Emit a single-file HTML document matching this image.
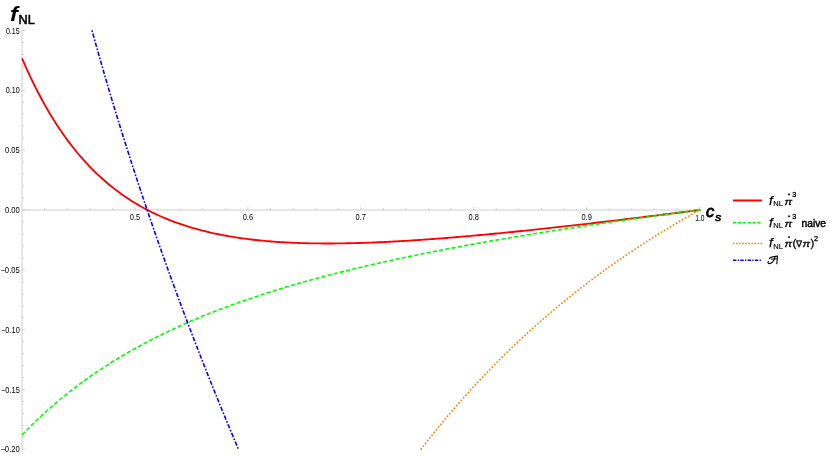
<!DOCTYPE html>
<html><head><meta charset="utf-8"><title>fNL</title>
<style>
html,body{margin:0;padding:0;background:#fff;}
body{width:830px;height:457px;overflow:hidden;font-family:"Liberation Sans",sans-serif;}
svg{display:block;}
text{font-family:"Liberation Sans",sans-serif;fill:#000;}
.tk{font-size:8.6px;}
</style></head><body>
<svg style="will-change:transform" width="830" height="457" viewBox="0 0 830 457">
<rect width="830" height="457" fill="#fff"/>

<rect x="21" y="30" width="2" height="419.5" fill="#e6e6e6"/>
<rect x="21" y="209" width="679" height="2" fill="#e6e6e6"/>
<g stroke="#bdbdbd" stroke-width="0.7" fill="none">
<line x1="22" y1="449.34" x2="25.00" y2="449.34"/>
<line x1="22" y1="437.37" x2="23.90" y2="437.37"/>
<line x1="22" y1="425.41" x2="23.90" y2="425.41"/>
<line x1="22" y1="413.44" x2="23.90" y2="413.44"/>
<line x1="22" y1="401.47" x2="23.90" y2="401.47"/>
<line x1="22" y1="389.50" x2="25.00" y2="389.50"/>
<line x1="22" y1="377.54" x2="23.90" y2="377.54"/>
<line x1="22" y1="365.57" x2="23.90" y2="365.57"/>
<line x1="22" y1="353.60" x2="23.90" y2="353.60"/>
<line x1="22" y1="341.64" x2="23.90" y2="341.64"/>
<line x1="22" y1="329.67" x2="25.00" y2="329.67"/>
<line x1="22" y1="317.70" x2="23.90" y2="317.70"/>
<line x1="22" y1="305.74" x2="23.90" y2="305.74"/>
<line x1="22" y1="293.77" x2="23.90" y2="293.77"/>
<line x1="22" y1="281.80" x2="23.90" y2="281.80"/>
<line x1="22" y1="269.84" x2="25.00" y2="269.84"/>
<line x1="22" y1="257.87" x2="23.90" y2="257.87"/>
<line x1="22" y1="245.90" x2="23.90" y2="245.90"/>
<line x1="22" y1="233.93" x2="23.90" y2="233.93"/>
<line x1="22" y1="221.97" x2="23.90" y2="221.97"/>
<line x1="22" y1="210.00" x2="25.00" y2="210.00"/>
<line x1="22" y1="198.03" x2="23.90" y2="198.03"/>
<line x1="22" y1="186.07" x2="23.90" y2="186.07"/>
<line x1="22" y1="174.10" x2="23.90" y2="174.10"/>
<line x1="22" y1="162.13" x2="23.90" y2="162.13"/>
<line x1="22" y1="150.16" x2="25.00" y2="150.16"/>
<line x1="22" y1="138.20" x2="23.90" y2="138.20"/>
<line x1="22" y1="126.23" x2="23.90" y2="126.23"/>
<line x1="22" y1="114.26" x2="23.90" y2="114.26"/>
<line x1="22" y1="102.30" x2="23.90" y2="102.30"/>
<line x1="22" y1="90.33" x2="25.00" y2="90.33"/>
<line x1="22" y1="78.36" x2="23.90" y2="78.36"/>
<line x1="22" y1="66.40" x2="23.90" y2="66.40"/>
<line x1="22" y1="54.43" x2="23.90" y2="54.43"/>
<line x1="22" y1="42.46" x2="23.90" y2="42.46"/>
<line x1="22" y1="30.50" x2="25.00" y2="30.50"/>
<line x1="44.68" y1="210.00" x2="44.68" y2="208.10"/>
<line x1="67.26" y1="210.00" x2="67.26" y2="208.10"/>
<line x1="89.84" y1="210.00" x2="89.84" y2="208.10"/>
<line x1="112.42" y1="210.00" x2="112.42" y2="208.10"/>
<line x1="135.00" y1="210.00" x2="135.00" y2="207.00"/>
<line x1="157.58" y1="210.00" x2="157.58" y2="208.10"/>
<line x1="180.16" y1="210.00" x2="180.16" y2="208.10"/>
<line x1="202.74" y1="210.00" x2="202.74" y2="208.10"/>
<line x1="225.32" y1="210.00" x2="225.32" y2="208.10"/>
<line x1="247.90" y1="210.00" x2="247.90" y2="207.00"/>
<line x1="270.48" y1="210.00" x2="270.48" y2="208.10"/>
<line x1="293.06" y1="210.00" x2="293.06" y2="208.10"/>
<line x1="315.64" y1="210.00" x2="315.64" y2="208.10"/>
<line x1="338.22" y1="210.00" x2="338.22" y2="208.10"/>
<line x1="360.80" y1="210.00" x2="360.80" y2="207.00"/>
<line x1="383.38" y1="210.00" x2="383.38" y2="208.10"/>
<line x1="405.96" y1="210.00" x2="405.96" y2="208.10"/>
<line x1="428.54" y1="210.00" x2="428.54" y2="208.10"/>
<line x1="451.12" y1="210.00" x2="451.12" y2="208.10"/>
<line x1="473.70" y1="210.00" x2="473.70" y2="207.00"/>
<line x1="496.28" y1="210.00" x2="496.28" y2="208.10"/>
<line x1="518.86" y1="210.00" x2="518.86" y2="208.10"/>
<line x1="541.44" y1="210.00" x2="541.44" y2="208.10"/>
<line x1="564.02" y1="210.00" x2="564.02" y2="208.10"/>
<line x1="586.60" y1="210.00" x2="586.60" y2="207.00"/>
<line x1="609.18" y1="210.00" x2="609.18" y2="208.10"/>
<line x1="631.76" y1="210.00" x2="631.76" y2="208.10"/>
<line x1="654.34" y1="210.00" x2="654.34" y2="208.10"/>
<line x1="676.92" y1="210.00" x2="676.92" y2="208.10"/>
<line x1="699.50" y1="210.00" x2="699.50" y2="207.00"/>
</g>
<text class="tk" x="5.9" y="33.6" textLength="13.9" lengthAdjust="spacingAndGlyphs">0.15</text>
<text class="tk" x="5.8" y="93.4" textLength="14.0" lengthAdjust="spacingAndGlyphs">0.10</text>
<text class="tk" x="5.0" y="153.3" textLength="14.8" lengthAdjust="spacingAndGlyphs">0.05</text>
<text class="tk" x="5.0" y="213.1" textLength="14.8" lengthAdjust="spacingAndGlyphs">0.00</text>
<text class="tk" x="0.4" y="272.9" textLength="19.4" lengthAdjust="spacingAndGlyphs">−0.05</text>
<text class="tk" x="1.0" y="332.8" textLength="18.8" lengthAdjust="spacingAndGlyphs">−0.10</text>
<text class="tk" x="1.0" y="392.6" textLength="18.8" lengthAdjust="spacingAndGlyphs">−0.15</text>
<text class="tk" x="0.4" y="452.4" textLength="19.4" lengthAdjust="spacingAndGlyphs">−0.20</text>
<text class="tk" x="129.8" y="220.4" textLength="10.4" lengthAdjust="spacingAndGlyphs">0.5</text>
<text class="tk" x="242.7" y="220.4" textLength="10.4" lengthAdjust="spacingAndGlyphs">0.6</text>
<text class="tk" x="355.6" y="220.4" textLength="10.4" lengthAdjust="spacingAndGlyphs">0.7</text>
<text class="tk" x="468.5" y="220.4" textLength="10.4" lengthAdjust="spacingAndGlyphs">0.8</text>
<text class="tk" x="581.4" y="220.4" textLength="10.4" lengthAdjust="spacingAndGlyphs">0.9</text>
<text class="tk" x="695.2" y="221.1" textLength="9.3" lengthAdjust="spacingAndGlyphs">1.0</text>
<path d="M22.10 58.42 L24.37 63.66 L26.64 68.76 L28.91 73.72 L31.17 78.54 L33.44 83.23 L35.71 87.79 L37.98 92.23 L40.25 96.55 L42.52 100.75 L44.79 104.84 L47.05 108.82 L49.32 112.69 L51.59 116.45 L53.86 120.12 L56.13 123.68 L58.40 127.15 L60.67 130.53 L62.93 133.82 L65.20 137.02 L67.47 140.13 L69.74 143.16 L72.01 146.11 L74.28 148.98 L76.55 151.78 L78.81 154.50 L81.08 157.14 L83.35 159.72 L85.62 162.23 L87.89 164.67 L90.16 167.05 L92.43 169.36 L94.69 171.62 L96.96 173.81 L99.23 175.95 L101.50 178.02 L103.77 180.05 L106.04 182.01 L108.31 183.93 L110.57 185.80 L112.84 187.61 L115.11 189.38 L117.38 191.10 L119.65 192.77 L121.92 194.40 L124.19 195.99 L126.45 197.53 L128.72 199.03 L130.99 200.50 L133.26 201.92 L135.53 203.30 L137.80 204.65 L140.07 205.96 L142.33 207.23 L144.60 208.47 L146.87 209.68 L149.14 210.85 L151.41 211.99 L153.68 213.10 L155.95 214.17 L158.21 215.22 L160.48 216.24 L162.75 217.23 L165.02 218.20 L167.29 219.13 L169.56 220.04 L171.83 220.92 L174.09 221.78 L176.36 222.62 L178.63 223.42 L180.90 224.21 L183.17 224.97 L185.44 225.71 L187.71 226.43 L189.97 227.13 L192.24 227.81 L194.51 228.47 L196.78 229.10 L199.05 229.72 L201.32 230.32 L203.59 230.90 L205.85 231.46 L208.12 232.00 L210.39 232.53 L212.66 233.04 L214.93 233.53 L217.20 234.01 L219.47 234.47 L221.73 234.92 L224.00 235.35 L226.27 235.77 L228.54 236.17 L230.81 236.56 L233.08 236.93 L235.35 237.29 L237.61 237.64 L239.88 237.98 L242.15 238.30 L244.42 238.61 L246.69 238.91 L248.96 239.19 L251.23 239.47 L253.49 239.73 L255.76 239.99 L258.03 240.23 L260.30 240.46 L262.57 240.68 L264.84 240.89 L267.11 241.09 L269.37 241.29 L271.64 241.47 L273.91 241.64 L276.18 241.80 L278.45 241.96 L280.72 242.11 L282.99 242.24 L285.25 242.37 L287.52 242.50 L289.79 242.61 L292.06 242.71 L294.33 242.81 L296.60 242.90 L298.87 242.99 L301.13 243.06 L303.40 243.13 L305.67 243.20 L307.94 243.25 L310.21 243.30 L312.48 243.34 L314.75 243.38 L317.01 243.41 L319.28 243.43 L321.55 243.45 L323.82 243.46 L326.09 243.47 L328.36 243.47 L330.63 243.47 L332.89 243.46 L335.16 243.44 L337.43 243.42 L339.70 243.40 L341.97 243.37 L344.24 243.33 L346.51 243.29 L348.77 243.25 L351.04 243.20 L353.31 243.15 L355.58 243.09 L357.85 243.03 L360.12 242.96 L362.39 242.89 L364.65 242.81 L366.92 242.73 L369.19 242.65 L371.46 242.57 L373.73 242.48 L376.00 242.38 L378.27 242.28 L380.53 242.18 L382.80 242.08 L385.07 241.97 L387.34 241.86 L389.61 241.74 L391.88 241.63 L394.15 241.50 L396.41 241.38 L398.68 241.25 L400.95 241.12 L403.22 240.99 L405.49 240.85 L407.76 240.71 L410.03 240.57 L412.29 240.43 L414.56 240.28 L416.83 240.13 L419.10 239.98 L421.37 239.82 L423.64 239.67 L425.91 239.51 L428.17 239.34 L430.44 239.18 L432.71 239.01 L434.98 238.84 L437.25 238.67 L439.52 238.50 L441.79 238.32 L444.05 238.14 L446.32 237.96 L448.59 237.78 L450.86 237.60 L453.13 237.41 L455.40 237.22 L457.67 237.03 L459.93 236.84 L462.20 236.65 L464.47 236.45 L466.74 236.25 L469.01 236.05 L471.28 235.85 L473.55 235.65 L475.81 235.44 L478.08 235.24 L480.35 235.03 L482.62 234.82 L484.89 234.61 L487.16 234.40 L489.43 234.18 L491.69 233.97 L493.96 233.75 L496.23 233.53 L498.50 233.31 L500.77 233.09 L503.04 232.87 L505.31 232.64 L507.57 232.42 L509.84 232.19 L512.11 231.96 L514.38 231.74 L516.65 231.50 L518.92 231.27 L521.19 231.04 L523.45 230.81 L525.72 230.57 L527.99 230.33 L530.26 230.10 L532.53 229.86 L534.80 229.62 L537.07 229.38 L539.33 229.13 L541.60 228.89 L543.87 228.65 L546.14 228.40 L548.41 228.15 L550.68 227.91 L552.95 227.66 L555.21 227.41 L557.48 227.16 L559.75 226.91 L562.02 226.66 L564.29 226.40 L566.56 226.15 L568.83 225.89 L571.09 225.64 L573.36 225.38 L575.63 225.12 L577.90 224.86 L580.17 224.60 L582.44 224.34 L584.71 224.08 L586.97 223.82 L589.24 223.56 L591.51 223.30 L593.78 223.03 L596.05 222.77 L598.32 222.50 L600.59 222.23 L602.85 221.97 L605.12 221.70 L607.39 221.43 L609.66 221.16 L611.93 220.89 L614.20 220.62 L616.47 220.35 L618.73 220.08 L621.00 219.80 L623.27 219.53 L625.54 219.26 L627.81 218.98 L630.08 218.71 L632.35 218.43 L634.61 218.15 L636.88 217.88 L639.15 217.60 L641.42 217.32 L643.69 217.04 L645.96 216.76 L648.23 216.48 L650.49 216.20 L652.76 215.92 L655.03 215.64 L657.30 215.35 L659.57 215.07 L661.84 214.79 L664.11 214.50 L666.37 214.22 L668.64 213.93 L670.91 213.65 L673.18 213.36 L675.45 213.07 L677.72 212.79 L679.99 212.50 L682.25 212.21 L684.52 211.92 L686.79 211.63 L689.06 211.34 L691.33 211.05 L693.60 210.76 L695.87 210.47 L698.13 210.18 L700.40 209.88" fill="none" stroke="#ff0000" stroke-width="1.85"/>
<path d="M22.10 434.94 L24.37 432.57 L26.64 430.25 L28.91 427.95 L31.17 425.69 L33.44 423.46 L35.71 421.26 L37.98 419.10 L40.25 416.96 L42.52 414.85 L44.79 412.77 L47.05 410.72 L49.32 408.70 L51.59 406.70 L53.86 404.74 L56.13 402.79 L58.40 400.88 L60.67 398.99 L62.93 397.12 L65.20 395.28 L67.47 393.46 L69.74 391.67 L72.01 389.90 L74.28 388.15 L76.55 386.42 L78.81 384.72 L81.08 383.04 L83.35 381.38 L85.62 379.73 L87.89 378.11 L90.16 376.51 L92.43 374.93 L94.69 373.37 L96.96 371.83 L99.23 370.31 L101.50 368.80 L103.77 367.31 L106.04 365.84 L108.31 364.39 L110.57 362.95 L112.84 361.54 L115.11 360.13 L117.38 358.75 L119.65 357.38 L121.92 356.02 L124.19 354.68 L126.45 353.36 L128.72 352.05 L130.99 350.76 L133.26 349.48 L135.53 348.21 L137.80 346.96 L140.07 345.72 L142.33 344.50 L144.60 343.29 L146.87 342.09 L149.14 340.91 L151.41 339.73 L153.68 338.57 L155.95 337.43 L158.21 336.29 L160.48 335.17 L162.75 334.06 L165.02 332.96 L167.29 331.87 L169.56 330.79 L171.83 329.72 L174.09 328.67 L176.36 327.62 L178.63 326.59 L180.90 325.56 L183.17 324.55 L185.44 323.54 L187.71 322.55 L189.97 321.56 L192.24 320.59 L194.51 319.62 L196.78 318.66 L199.05 317.72 L201.32 316.78 L203.59 315.85 L205.85 314.93 L208.12 314.02 L210.39 313.11 L212.66 312.22 L214.93 311.33 L217.20 310.45 L219.47 309.58 L221.73 308.72 L224.00 307.86 L226.27 307.02 L228.54 306.18 L230.81 305.34 L233.08 304.52 L235.35 303.70 L237.61 302.89 L239.88 302.09 L242.15 301.29 L244.42 300.50 L246.69 299.72 L248.96 298.94 L251.23 298.17 L253.49 297.41 L255.76 296.65 L258.03 295.90 L260.30 295.15 L262.57 294.42 L264.84 293.68 L267.11 292.96 L269.37 292.24 L271.64 291.52 L273.91 290.81 L276.18 290.11 L278.45 289.41 L280.72 288.72 L282.99 288.03 L285.25 287.35 L287.52 286.67 L289.79 286.00 L292.06 285.34 L294.33 284.68 L296.60 284.02 L298.87 283.37 L301.13 282.72 L303.40 282.08 L305.67 281.45 L307.94 280.81 L310.21 280.19 L312.48 279.56 L314.75 278.94 L317.01 278.33 L319.28 277.72 L321.55 277.12 L323.82 276.52 L326.09 275.92 L328.36 275.33 L330.63 274.74 L332.89 274.15 L335.16 273.57 L337.43 273.00 L339.70 272.43 L341.97 271.86 L344.24 271.29 L346.51 270.73 L348.77 270.17 L351.04 269.62 L353.31 269.07 L355.58 268.52 L357.85 267.98 L360.12 267.44 L362.39 266.91 L364.65 266.37 L366.92 265.84 L369.19 265.32 L371.46 264.80 L373.73 264.28 L376.00 263.76 L378.27 263.25 L380.53 262.74 L382.80 262.23 L385.07 261.73 L387.34 261.23 L389.61 260.73 L391.88 260.23 L394.15 259.74 L396.41 259.25 L398.68 258.76 L400.95 258.28 L403.22 257.80 L405.49 257.32 L407.76 256.85 L410.03 256.37 L412.29 255.90 L414.56 255.44 L416.83 254.97 L419.10 254.51 L421.37 254.05 L423.64 253.59 L425.91 253.14 L428.17 252.68 L430.44 252.23 L432.71 251.79 L434.98 251.34 L437.25 250.90 L439.52 250.46 L441.79 250.02 L444.05 249.58 L446.32 249.15 L448.59 248.72 L450.86 248.29 L453.13 247.86 L455.40 247.43 L457.67 247.01 L459.93 246.59 L462.20 246.17 L464.47 245.75 L466.74 245.34 L469.01 244.92 L471.28 244.51 L473.55 244.10 L475.81 243.69 L478.08 243.29 L480.35 242.88 L482.62 242.48 L484.89 242.08 L487.16 241.68 L489.43 241.28 L491.69 240.89 L493.96 240.50 L496.23 240.10 L498.50 239.71 L500.77 239.32 L503.04 238.94 L505.31 238.55 L507.57 238.17 L509.84 237.79 L512.11 237.41 L514.38 237.03 L516.65 236.65 L518.92 236.27 L521.19 235.90 L523.45 235.53 L525.72 235.16 L527.99 234.79 L530.26 234.42 L532.53 234.05 L534.80 233.69 L537.07 233.32 L539.33 232.96 L541.60 232.60 L543.87 232.24 L546.14 231.88 L548.41 231.52 L550.68 231.16 L552.95 230.81 L555.21 230.45 L557.48 230.10 L559.75 229.75 L562.02 229.40 L564.29 229.05 L566.56 228.70 L568.83 228.36 L571.09 228.01 L573.36 227.67 L575.63 227.32 L577.90 226.98 L580.17 226.64 L582.44 226.30 L584.71 225.96 L586.97 225.63 L589.24 225.29 L591.51 224.95 L593.78 224.62 L596.05 224.29 L598.32 223.95 L600.59 223.62 L602.85 223.29 L605.12 222.96 L607.39 222.63 L609.66 222.31 L611.93 221.98 L614.20 221.65 L616.47 221.33 L618.73 221.01 L621.00 220.68 L623.27 220.36 L625.54 220.04 L627.81 219.72 L630.08 219.40 L632.35 219.08 L634.61 218.77 L636.88 218.45 L639.15 218.13 L641.42 217.82 L643.69 217.50 L645.96 217.19 L648.23 216.88 L650.49 216.56 L652.76 216.25 L655.03 215.94 L657.30 215.63 L659.57 215.32 L661.84 215.02 L664.11 214.71 L666.37 214.40 L668.64 214.10 L670.91 213.79 L673.18 213.49 L675.45 213.18 L677.72 212.88 L679.99 212.58 L682.25 212.27 L684.52 211.97 L686.79 211.67 L689.06 211.37 L691.33 211.07 L693.60 210.77 L695.87 210.48 L698.13 210.18 L700.40 209.88" fill="none" stroke="#00ff00" stroke-width="1.6" stroke-dasharray="4.2 2.15"/>
<path d="M420.72 449.64 L421.46 448.68 L422.19 447.72 L422.93 446.77 L423.67 445.81 L424.41 444.86 L425.15 443.92 L425.88 442.97 L426.62 442.03 L427.36 441.09 L428.10 440.15 L428.84 439.22 L429.57 438.28 L430.31 437.35 L431.05 436.42 L431.79 435.50 L432.53 434.58 L433.26 433.66 L434.00 432.74 L434.74 431.82 L435.48 430.91 L436.22 430.00 L436.95 429.09 L437.69 428.18 L438.43 427.28 L439.17 426.37 L439.91 425.47 L440.64 424.58 L441.38 423.68 L442.12 422.79 L442.86 421.90 L443.60 421.01 L444.33 420.12 L445.07 419.24 L445.81 418.36 L446.55 417.48 L447.29 416.60 L448.02 415.72 L448.76 414.85 L449.50 413.98 L450.24 413.11 L450.98 412.24 L451.71 411.38 L452.45 410.52 L453.19 409.66 L453.93 408.80 L454.66 407.95 L455.40 407.09 L456.14 406.24 L456.88 405.39 L457.62 404.54 L458.35 403.70 L459.09 402.86 L459.83 402.02 L460.57 401.18 L461.31 400.34 L462.04 399.51 L462.78 398.67 L463.52 397.84 L464.26 397.02 L465.00 396.19 L465.73 395.36 L466.47 394.54 L467.21 393.72 L467.95 392.90 L468.69 392.09 L469.42 391.27 L470.16 390.46 L470.90 389.65 L471.64 388.84 L472.38 388.04 L473.11 387.23 L473.85 386.43 L474.59 385.63 L475.33 384.83 L476.07 384.04 L476.80 383.24 L477.54 382.45 L478.28 381.66 L479.02 380.87 L479.76 380.08 L480.49 379.30 L481.23 378.52 L481.97 377.74 L482.71 376.96 L483.45 376.18 L484.18 375.40 L484.92 374.63 L485.66 373.86 L486.40 373.09 L487.13 372.32 L487.87 371.56 L488.61 370.79 L489.35 370.03 L490.09 369.27 L490.82 368.51 L491.56 367.75 L492.30 367.00 L493.04 366.25 L493.78 365.49 L494.51 364.75 L495.25 364.00 L495.99 363.25 L496.73 362.51 L497.47 361.76 L498.20 361.02 L498.94 360.29 L499.68 359.55 L500.42 358.81 L501.16 358.08 L501.89 357.35 L502.63 356.62 L503.37 355.89 L504.11 355.16 L504.85 354.44 L505.58 353.71 L506.32 352.99 L507.06 352.27 L507.80 351.55 L508.54 350.84 L509.27 350.12 L510.01 349.41 L510.75 348.70 L511.49 347.99 L512.23 347.28 L512.96 346.58 L513.70 345.87 L514.44 345.17 L515.18 344.47 L515.91 343.77 L516.65 343.07 L517.39 342.37 L518.13 341.68 L518.87 340.98 L519.60 340.29 L520.34 339.60 L521.08 338.91 L521.82 338.23 L522.56 337.54 L523.29 336.86 L524.03 336.18 L524.77 335.50 L525.51 334.82 L526.25 334.14 L526.98 333.46 L527.72 332.79 L528.46 332.12 L529.20 331.45 L529.94 330.78 L530.67 330.11 L531.41 329.44 L532.15 328.78 L532.89 328.11 L533.63 327.45 L534.36 326.79 L535.10 326.13 L535.84 325.48 L536.58 324.82 L537.32 324.17 L538.05 323.51 L538.79 322.86 L539.53 322.21 L540.27 321.56 L541.01 320.92 L541.74 320.27 L542.48 319.63 L543.22 318.98 L543.96 318.34 L544.70 317.70 L545.43 317.07 L546.17 316.43 L546.91 315.79 L547.65 315.16 L548.38 314.53 L549.12 313.90 L549.86 313.27 L550.60 312.64 L551.34 312.01 L552.07 311.39 L552.81 310.76 L553.55 310.14 L554.29 309.52 L555.03 308.90 L555.76 308.28 L556.50 307.67 L557.24 307.05 L557.98 306.44 L558.72 305.82 L559.45 305.21 L560.19 304.60 L560.93 303.99 L561.67 303.39 L562.41 302.78 L563.14 302.18 L563.88 301.57 L564.62 300.97 L565.36 300.37 L566.10 299.77 L566.83 299.17 L567.57 298.58 L568.31 297.98 L569.05 297.39 L569.79 296.80 L570.52 296.20 L571.26 295.61 L572.00 295.03 L572.74 294.44 L573.48 293.85 L574.21 293.27 L574.95 292.68 L575.69 292.10 L576.43 291.52 L577.17 290.94 L577.90 290.36 L578.64 289.79 L579.38 289.21 L580.12 288.64 L580.85 288.06 L581.59 287.49 L582.33 286.92 L583.07 286.35 L583.81 285.78 L584.54 285.22 L585.28 284.65 L586.02 284.08 L586.76 283.52 L587.50 282.96 L588.23 282.40 L588.97 281.84 L589.71 281.28 L590.45 280.72 L591.19 280.17 L591.92 279.61 L592.66 279.06 L593.40 278.51 L594.14 277.96 L594.88 277.40 L595.61 276.86 L596.35 276.31 L597.09 275.76 L597.83 275.22 L598.57 274.67 L599.30 274.13 L600.04 273.59 L600.78 273.05 L601.52 272.51 L602.26 271.97 L602.99 271.43 L603.73 270.90 L604.47 270.36 L605.21 269.83 L605.95 269.29 L606.68 268.76 L607.42 268.23 L608.16 267.70 L608.90 267.18 L609.63 266.65 L610.37 266.12 L611.11 265.60 L611.85 265.07 L612.59 264.55 L613.32 264.03 L614.06 263.51 L614.80 262.99 L615.54 262.47 L616.28 261.96 L617.01 261.44 L617.75 260.93 L618.49 260.41 L619.23 259.90 L619.97 259.39 L620.70 258.88 L621.44 258.37 L622.18 257.86 L622.92 257.35 L623.66 256.85 L624.39 256.34 L625.13 255.84 L625.87 255.33 L626.61 254.83 L627.35 254.33 L628.08 253.83 L628.82 253.33 L629.56 252.84 L630.30 252.34 L631.04 251.84 L631.77 251.35 L632.51 250.86 L633.25 250.36 L633.99 249.87 L634.73 249.38 L635.46 248.89 L636.20 248.40 L636.94 247.91 L637.68 247.43 L638.42 246.94 L639.15 246.46 L639.89 245.98 L640.63 245.49 L641.37 245.01 L642.10 244.53 L642.84 244.05 L643.58 243.57 L644.32 243.10 L645.06 242.62 L645.79 242.14 L646.53 241.67 L647.27 241.20 L648.01 240.72 L648.75 240.25 L649.48 239.78 L650.22 239.31 L650.96 238.84 L651.70 238.37 L652.44 237.91 L653.17 237.44 L653.91 236.98 L654.65 236.51 L655.39 236.05 L656.13 235.59 L656.86 235.13 L657.60 234.67 L658.34 234.21 L659.08 233.75 L659.82 233.29 L660.55 232.83 L661.29 232.38 L662.03 231.92 L662.77 231.47 L663.51 231.02 L664.24 230.57 L664.98 230.12 L665.72 229.67 L666.46 229.22 L667.20 228.77 L667.93 228.32 L668.67 227.87 L669.41 227.43 L670.15 226.98 L670.89 226.54 L671.62 226.10 L672.36 225.66 L673.10 225.21 L673.84 224.77 L674.57 224.34 L675.31 223.90 L676.05 223.46 L676.79 223.02 L677.53 222.59 L678.26 222.15 L679.00 221.72 L679.74 221.28 L680.48 220.85 L681.22 220.42 L681.95 219.99 L682.69 219.56 L683.43 219.13 L684.17 218.70 L684.91 218.28 L685.64 217.85 L686.38 217.42 L687.12 217.00 L687.86 216.58 L688.60 216.15 L689.33 215.73 L690.07 215.31 L690.81 214.89 L691.55 214.47 L692.29 214.05 L693.02 213.63 L693.76 213.22 L694.50 212.80 L695.24 212.38 L695.98 211.97 L696.71 211.56 L697.45 211.14 L698.19 210.73 L698.93 210.32 L699.67 209.91 L700.40 209.50" fill="none" stroke="#ff8000" stroke-width="1.6" stroke-dasharray="1.7 1.8"/>
<path d="M92.00 30.40 L92.58 32.51 L93.16 34.61 L93.74 36.72 L94.33 38.82 L94.91 40.93 L95.50 43.03 L96.09 45.14 L96.68 47.24 L97.28 49.35 L97.87 51.45 L98.47 53.56 L99.06 55.66 L99.66 57.77 L100.26 59.87 L100.87 61.98 L101.47 64.08 L102.07 66.19 L102.68 68.29 L103.29 70.40 L103.90 72.50 L104.51 74.61 L105.12 76.71 L105.74 78.82 L106.36 80.92 L106.97 83.03 L107.59 85.13 L108.21 87.24 L108.84 89.34 L109.46 91.45 L110.09 93.55 L110.71 95.66 L111.34 97.76 L111.97 99.87 L112.61 101.97 L113.24 104.08 L113.87 106.18 L114.51 108.29 L115.15 110.39 L115.79 112.50 L116.43 114.60 L117.07 116.71 L117.72 118.81 L118.37 120.92 L119.01 123.02 L119.66 125.13 L120.31 127.23 L120.97 129.34 L121.62 131.44 L122.28 133.55 L122.93 135.65 L123.59 137.76 L124.25 139.86 L124.91 141.97 L125.58 144.07 L126.24 146.18 L126.91 148.28 L127.58 150.39 L128.25 152.49 L128.92 154.60 L129.59 156.70 L130.27 158.81 L130.94 160.91 L131.62 163.02 L132.30 165.12 L132.98 167.23 L133.66 169.33 L134.35 171.44 L135.03 173.54 L135.72 175.65 L136.41 177.75 L137.10 179.86 L137.79 181.96 L138.49 184.07 L139.18 186.17 L139.88 188.28 L140.58 190.38 L141.28 192.49 L141.98 194.59 L142.68 196.70 L143.39 198.80 L144.09 200.91 L144.80 203.01 L145.51 205.12 L146.22 207.22 L146.93 209.33 L147.65 211.43 L148.36 213.54 L149.08 215.64 L149.80 217.75 L150.52 219.85 L151.24 221.96 L151.96 224.06 L152.69 226.17 L153.41 228.27 L154.14 230.38 L154.87 232.48 L155.60 234.59 L156.34 236.69 L157.07 238.80 L157.81 240.90 L158.55 243.01 L159.28 245.11 L160.03 247.22 L160.77 249.32 L161.51 251.43 L162.26 253.53 L163.00 255.64 L163.75 257.74 L164.50 259.85 L165.25 261.95 L166.01 264.06 L166.76 266.16 L167.52 268.27 L168.28 270.37 L169.04 272.48 L169.80 274.58 L170.56 276.69 L171.33 278.79 L172.09 280.90 L172.86 283.00 L173.63 285.11 L174.40 287.21 L175.17 289.32 L175.95 291.42 L176.72 293.53 L177.50 295.63 L178.28 297.74 L179.06 299.84 L179.84 301.95 L180.62 304.05 L181.41 306.16 L182.19 308.26 L182.98 310.37 L183.77 312.47 L184.56 314.58 L185.36 316.68 L186.15 318.79 L186.95 320.89 L187.74 323.00 L188.54 325.10 L189.34 327.21 L190.14 329.31 L190.95 331.42 L191.75 333.52 L192.56 335.63 L193.37 337.73 L194.18 339.84 L194.99 341.94 L195.80 344.05 L196.62 346.15 L197.44 348.26 L198.25 350.36 L199.07 352.47 L199.89 354.57 L200.72 356.68 L201.54 358.78 L202.37 360.89 L203.19 362.99 L204.02 365.10 L204.85 367.20 L205.69 369.31 L206.52 371.41 L207.36 373.52 L208.19 375.62 L209.03 377.73 L209.87 379.83 L210.71 381.94 L211.56 384.04 L212.40 386.15 L213.25 388.25 L214.09 390.36 L214.94 392.46 L215.80 394.57 L216.65 396.67 L217.50 398.78 L218.36 400.88 L219.22 402.99 L220.07 405.09 L220.93 407.20 L221.80 409.30 L222.66 411.41 L223.53 413.51 L224.39 415.62 L225.26 417.72 L226.13 419.83 L227.00 421.93 L227.88 424.04 L228.75 426.14 L229.63 428.25 L230.50 430.35 L231.38 432.46 L232.26 434.56 L233.15 436.67 L234.03 438.77 L234.92 440.88 L235.80 442.98 L236.69 445.09 L237.58 447.19 L238.48 449.30" fill="none" stroke="#0000ff" stroke-width="1.6" stroke-dasharray="1.6 1.7 4.4 1.7"/>
<text transform="translate(10.1 20.6) scale(1.18 1)" font-size="20" font-weight="bold" font-style="italic">f</text>
<text x="18.5" y="23.9" font-size="12.3" stroke="#000" stroke-width="0.55" textLength="16.2" lengthAdjust="spacingAndGlyphs">NL</text>
<text x="706" y="216.9" font-size="16.5" font-style="italic" stroke="#000" stroke-width="0.8">c</text>
<text x="715.2" y="220.6" font-size="11.8" font-style="italic" stroke="#000" stroke-width="0.7">s</text>
<line x1="733" y1="200.5" x2="762" y2="200.5" stroke="#ff0000" stroke-width="2"/>
<line x1="733" y1="222.8" x2="762" y2="222.8" stroke="#00ff00" stroke-width="1.5" stroke-dasharray="3.3 1.55"/>
<line x1="733" y1="243.4" x2="762" y2="243.4" stroke="#ff8000" stroke-width="1.5" stroke-dasharray="1.6 1.46"/>
<line x1="733" y1="260.2" x2="762" y2="260.2" stroke="#0000ff" stroke-width="1.6" stroke-dasharray="3.4 1.3 1.3 1.3"/>
<g stroke="#000" stroke-width="0.3">
<text x="769.0" y="204.5" font-size="13.5" font-style="italic" stroke-width="0.25">f</text><text x="773.3" y="205.9" font-size="7.8" stroke-width="0.15" textLength="9.6" lengthAdjust="spacingAndGlyphs">NL</text><text x="784.5" y="204.5" font-size="9.6" font-style="italic" textLength="7.6" lengthAdjust="spacingAndGlyphs">π</text><circle cx="789.0" cy="194.3" r="0.85" fill="#000"/><text x="792.3" y="197.1" font-size="7.3">3</text>
<text x="769.0" y="226.5" font-size="13.5" font-style="italic" stroke-width="0.25">f</text><text x="773.3" y="227.9" font-size="7.8" stroke-width="0.15" textLength="9.6" lengthAdjust="spacingAndGlyphs">NL</text><text x="784.5" y="226.5" font-size="9.6" font-style="italic" textLength="7.6" lengthAdjust="spacingAndGlyphs">π</text><circle cx="789.0" cy="216.3" r="0.85" fill="#000"/><text x="792.3" y="219.1" font-size="7.3">3</text>
<text x="801.5" y="226.5" font-size="10.5" stroke-width="0.45" textLength="24.5" lengthAdjust="spacingAndGlyphs">naive</text>
<text x="769.0" y="247.3" font-size="13.5" font-style="italic" stroke-width="0.25">f</text><text x="773.3" y="248.7" font-size="7.8" stroke-width="0.15" textLength="9.6" lengthAdjust="spacingAndGlyphs">NL</text><text x="784.5" y="247.3" font-size="9.6" font-style="italic" textLength="7.6" lengthAdjust="spacingAndGlyphs">π</text><circle cx="789.0" cy="237.1" r="0.85" fill="#000"/>
<text x="792.5" y="247.3" font-size="11.5">(</text><text x="796.3" y="246.6" font-size="8.6">∇</text><text x="802.5" y="247.3" font-size="9.6" font-style="italic" textLength="7.6" lengthAdjust="spacingAndGlyphs">π</text><text x="810.4" y="247.3" font-size="11.5">)</text><text x="814" y="241.3" font-size="7.3">2</text>
</g>
<g fill="none" stroke="#000" stroke-width="1.1" stroke-linecap="round" stroke-linejoin="round"><path d="M777.5 256.2 L776.8 263.7"/><path d="M769.4 258.6 C770 257 772 256.5 777.5 256.1"/><path d="M775.1 256.6 C774.6 259 773.6 261 772.5 262.2 C771 263.8 768.3 264.2 767.9 262.7 C767.7 262 768 261.7 768.5 261.5"/><path d="M771.4 259.2 L776.4 258.7" stroke-width="1.1"/></g>
</svg></body></html>
